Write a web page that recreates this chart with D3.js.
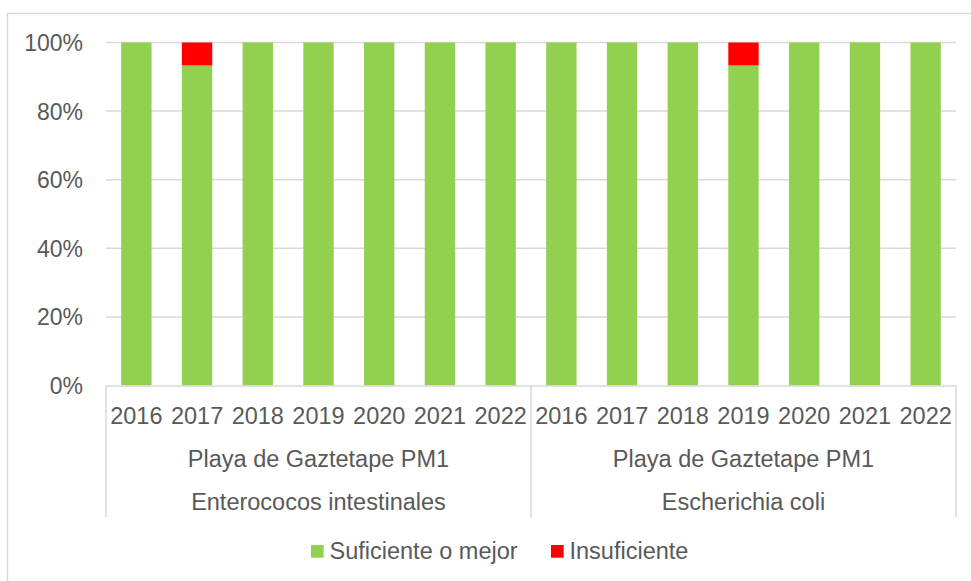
<!DOCTYPE html>
<html><head><meta charset="utf-8">
<script src="https://cdn.jsdelivr.net/npm/d3@7"></script>
<style>body{margin:0;background:#fff}svg{display:block}text{font-family:"Liberation Sans",Arial,sans-serif;fill:#595959}</style>
</head><body><svg id="c" width="971" height="581"></svg>
<script>
const years = ["2016","2017","2018","2019","2020","2021","2022"];
const groups = [
  {site:"Playa de Gaztetape PM1", param:"Enterococos intestinales"},
  {site:"Playa de Gaztetape PM1", param:"Escherichia coli"}
];
const suficiente = [100,93.3,100,100,100,100,100, 100,100,100,93.3,100,100,100];
const insuficiente = [0,6.7,0,0,0,0,0, 0,0,0,6.7,0,0,0];
const yTicks = [0,20,40,60,80,100];
const seriesNames = ["Suficiente o mejor","Insuficiente"];
const colors = ["#92d050","#ff0000"];

const svg = d3.select("#c");
const FS = 23.5;
const L = 106, R = 956, T = 42.5, B = 385.5;
const cats = [];
groups.forEach((g,gi)=>years.forEach(y=>cats.push(gi+"|"+y)));
const x = d3.scaleBand().domain(cats).range([L,R]).paddingInner(0.5).paddingOuter(0.25);
const y = d3.scaleLinear().domain([0,100]).range([B,T]);

svg.append("rect").attr("x",7.5).attr("y",13.5).attr("width",1000).attr("height",1000)
  .attr("fill","none").attr("stroke","#d9d9d9").attr("stroke-width",1.5);

// gridlines
svg.append("g").selectAll("line").data(yTicks.filter(t=>t>0)).join("line")
  .attr("x1",L).attr("x2",R).attr("y1",d=>y(d)).attr("y2",d=>y(d))
  .attr("stroke","#d9d9d9").attr("stroke-width",1.5);

// y labels
svg.append("g").selectAll("text").data(yTicks).join("text")
  .attr("x",83).attr("y",d=>y(d)+FS*0.36).attr("text-anchor","end")
  .attr("font-size",FS-0.5).text(d=>d+"%");

// bars
const data = cats.map((c,i)=>({c, s:suficiente[i], n:insuficiente[i]}));
const stack = d3.stack().keys(["s","n"])(data);
svg.append("g").selectAll("g").data(stack).join("g").attr("fill",(d,i)=>colors[i])
  .selectAll("rect").data(d=>d).join("rect")
  .attr("x",d=>x(d.data.c)).attr("width",x.bandwidth())
  .attr("y",d=>y(d[1])).attr("height",d=>y(d[0])-y(d[1]));

// axis line
svg.append("line").attr("x1",L).attr("x2",R).attr("y1",B+0.5).attr("y2",B+0.5)
  .attr("stroke","#d9d9d9").attr("stroke-width",1.5);
// separators
const sepX = [L, (L+R)/2, R];
svg.append("g").selectAll("line").data(sepX).join("line")
  .attr("x1",d=>d).attr("x2",d=>d).attr("y1",B).attr("y2",517)
  .attr("stroke","#d9d9d9").attr("stroke-width",1.5);

// year labels
svg.append("g").selectAll("text").data(cats).join("text")
  .attr("x",d=>x(d)+x.bandwidth()/2).attr("y",424).attr("text-anchor","middle")
  .attr("font-size",FS).text(d=>d.split("|")[1]);

// group labels
const gw = (R-L)/groups.length;
svg.append("g").selectAll("text").data(groups).join("text")
  .attr("x",(d,i)=>L+gw*(i+0.5)).attr("y",467).attr("text-anchor","middle")
  .attr("font-size",FS).text(d=>d.site);
svg.append("g").selectAll("text").data(groups).join("text")
  .attr("x",(d,i)=>L+gw*(i+0.5)).attr("y",509.5).attr("text-anchor","middle")
  .attr("font-size",FS).text(d=>d.param);

// legend
const lg = svg.append("g");
const lx = [311, 551];
seriesNames.forEach((n,i)=>{
  lg.append("rect").attr("x",lx[i]).attr("y",545).attr("width",12.7).attr("height",12.7).attr("fill",colors[i]);
  lg.append("text").attr("x",lx[i]+18.5).attr("y",559.3).attr("font-size",FS).text(n);
});
</script></body></html>
